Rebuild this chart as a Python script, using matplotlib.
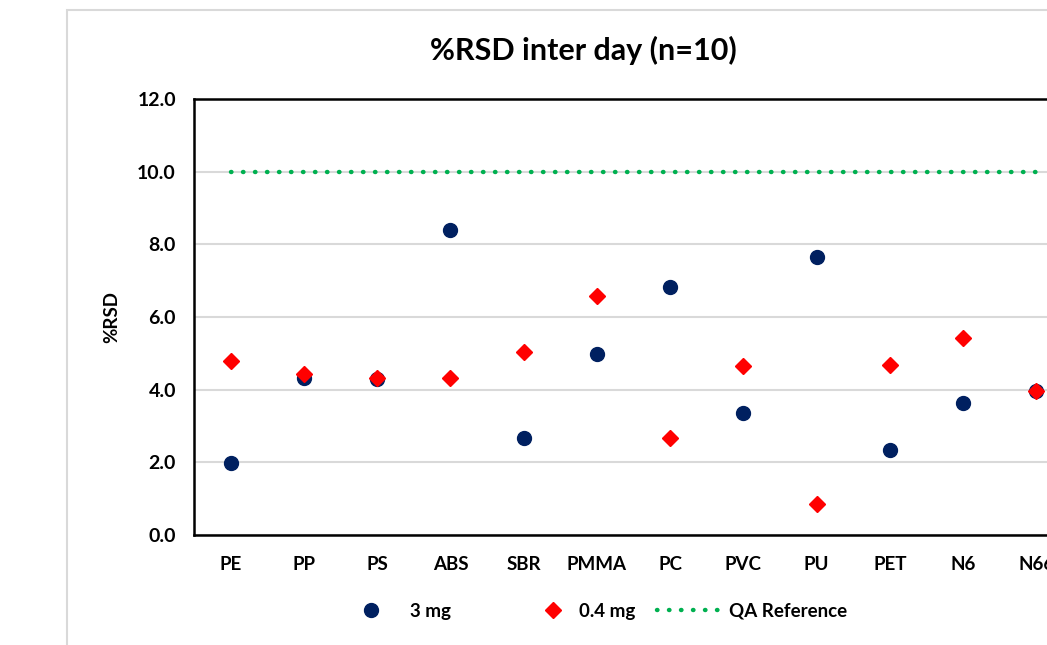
import matplotlib.pyplot as plt
from matplotlib.patches import Rectangle
from matplotlib.lines import Line2D

polymers = ["PE", "PP", "PS", "ABS", "SBR", "PMMA", "PC", "PVC", "PU", "PET", "N6", "N66"]
rsd_3mg = [1.98, 4.32, 4.30, 8.39, 2.67, 4.98, 6.83, 3.36, 7.65, 2.34, 3.63, 3.96]
rsd_04mg = [4.79, 4.43, 4.32, 4.32, 5.04, 6.58, 2.67, 4.65, 0.85, 4.68, 5.42, 3.96]
qa_reference = [10.0] * len(polymers)
y_ticks = [0, 2, 4, 6, 8, 10, 12]

plt.rcParams["font.family"] = ["Lato", "DejaVu Sans"]
plt.rcParams["font.weight"] = "bold"

W, H = 1047, 645
fig = plt.figure(figsize=[W / 100, H / 100], dpi=100)
# chart area frame (cropped on the right and bottom)
fig.patches.append(Rectangle((67 / W, -0.1), 1.2, 1.1 - 10 / H, transform=fig.transFigure,
                             fill=False, edgecolor="#d9d9d9", linewidth=1.5))

ax = fig.add_axes([194 / W, 1 - 535 / H, 879 / W, 436 / H])
x = list(range(1, len(polymers) + 1))

dots = (0, (0.1, 2.6))
ax.plot(x, qa_reference, linestyle=dots, dash_capstyle="round", color="#00B050",
        linewidth=3.2, zorder=2)
ax.plot(x, rsd_3mg, "o", color="#002060", markersize=10, zorder=3)
ax.plot(x, rsd_04mg, "D", color="#FF0000", markersize=8, zorder=4)

ax.set_xlim(0.5, len(polymers) + 0.5)
ax.set_ylim(0, 12)
ax.set_xticks(x)
ax.set_xticklabels(polymers, fontsize=13.5, fontweight="bold")
ax.set_yticks(y_ticks)
ax.set_yticklabels([f"{v:.1f}" for v in y_ticks], fontsize=14, fontweight="bold")
ax.tick_params(length=0, pad=15)
ax.tick_params(axis="y", pad=13)
ax.grid(axis="y", color="#d9d9d9", linewidth=1.5)
ax.set_axisbelow(True)
for side in ["left", "top", "bottom"]:
    ax.spines[side].set_linewidth(1.8)
ax.spines["right"].set_visible(False)
ax.set_ylabel("%RSD", fontsize=13.5, fontweight="bold", labelpad=12)

fig.text(583 / W, 1 - 50 / H, "%RSD inter day (n=10)", ha="center", va="center",
         fontsize=22, fontweight="bold")

# legend entries placed one by one, spaced like the original
entries = [
    (Line2D([], [], marker="o", color="#002060", linestyle="none", markersize=10), "3 mg", 335, 3.8, 0.2),
    (Line2D([], [], marker="D", color="#FF0000", linestyle="none", markersize=8), "0.4 mg", 534, 2.0, 0.4),
    (Line2D([], [], linestyle=dots, dash_capstyle="round", color="#00B050", linewidth=3.2),
     "QA Reference", 657, 3.73, 0.1),
]
for handle, label, x0, hl, pad in entries:
    fig.legend([handle], [label], loc="center left", bbox_to_anchor=(x0 / W, 1 - 611 / H),
               frameon=False, prop={"size": 13.5, "weight": "bold"}, handlelength=hl,
               handletextpad=pad, borderpad=0, borderaxespad=0)

fig.savefig("out.png", dpi=100)
